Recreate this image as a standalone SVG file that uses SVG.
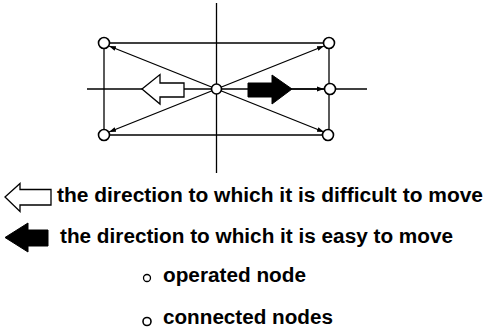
<svg xmlns="http://www.w3.org/2000/svg" width="484" height="330" viewBox="0 0 484 330">
<style>
.ln{stroke:#000;stroke-width:1.3;fill:none}
.nd{fill:#fff;stroke:#000;stroke-width:1.6}
.t{font-family:"Liberation Sans",Arial,sans-serif;font-weight:bold;font-size:20px;fill:#000}
.hol{fill:#fff;stroke:#000;stroke-width:1.3}
.blk{fill:#000;stroke:#000;stroke-width:1}
</style>
<defs>
<marker id="ah" viewBox="0 0 10 10" refX="10" refY="5" markerWidth="7" markerHeight="7" orient="auto" markerUnits="userSpaceOnUse">
<path d="M0,1.5 L10,5 L0,8.5 z" fill="#000"/>
</marker>
</defs>
<rect width="484" height="330" fill="#fff"/>
<g id="axes">
<line class="ln" x1="216.5" y1="3" x2="216.5" y2="173"/>
<line class="ln" x1="87" y1="89" x2="367" y2="89"/>
</g>
<g id="connectors">
<line class="ln" x1="104" y1="43" x2="329" y2="43"/>
<line class="ln" x1="104" y1="135" x2="329" y2="135"/>
<line class="ln" x1="104" y1="43" x2="104" y2="135"/>
<line class="ln" x1="329" y1="43" x2="329" y2="135"/>
<line class="ln" stroke-width="1.6" x1="216.5" y1="89" x2="109" y2="46" marker-end="url(#ah)"/>
<line class="ln" stroke-width="1.6" x1="216.5" y1="89" x2="109" y2="132" marker-end="url(#ah)"/>
<line class="ln" stroke-width="1.6" x1="216.5" y1="89" x2="324" y2="46" marker-end="url(#ah)"/>
<line class="ln" stroke-width="1.6" x1="216.5" y1="89" x2="324" y2="132" marker-end="url(#ah)"/>
<line class="ln" x1="292" y1="89" x2="324" y2="89" marker-end="url(#ah)"/>
</g>
<g id="arrow-difficult">
<path class="hol" d="M142,89 L160,74.5 L160,83 L184,83 L184,97 L160,97 L160,104 Z"/>
</g>
<g id="arrow-easy">
<path class="blk" d="M292,89 L272,75 L272,83 L248,83 L248,97 L272,97 L272,104 Z"/>
</g>
<g id="node-center"><circle class="nd" cx="216.5" cy="89" r="5"/></g>
<g id="node-tl"><circle class="nd" cx="104" cy="43" r="5.5"/></g>
<g id="node-tr"><circle class="nd" cx="329" cy="43" r="5.5"/></g>
<g id="node-mr"><circle class="nd" cx="330" cy="89" r="5.5"/></g>
<g id="node-bl"><circle class="nd" cx="104" cy="135" r="5.5"/></g>
<g id="node-br"><circle class="nd" cx="328" cy="135" r="5.5"/></g>
<g id="legend">
<path class="hol" d="M5,197 L20,183.5 L20,189.5 L51,189.5 L51,205 L20,205 L20,211.5 Z"/>
<text class="t" x="57" y="202" textLength="426" lengthAdjust="spacingAndGlyphs">the direction to which it is difficult to move</text>
<path class="blk" d="M5,237.5 L28,223 L28,230 L48,230 L48,246 L28,246 L28,252 Z"/>
<text class="t" x="60" y="243" textLength="393" lengthAdjust="spacingAndGlyphs">the direction to which it is easy to move</text>
<circle cx="147" cy="278" r="3.5" fill="#fff" stroke="#000" stroke-width="1.3"/>
<text class="t" x="163" y="282" textLength="143" lengthAdjust="spacingAndGlyphs">operated node</text>
<circle cx="147" cy="321.5" r="4" fill="#fff" stroke="#000" stroke-width="1.6"/>
<text class="t" x="163" y="324" textLength="170" lengthAdjust="spacingAndGlyphs">connected nodes</text>
</g>
</svg>
